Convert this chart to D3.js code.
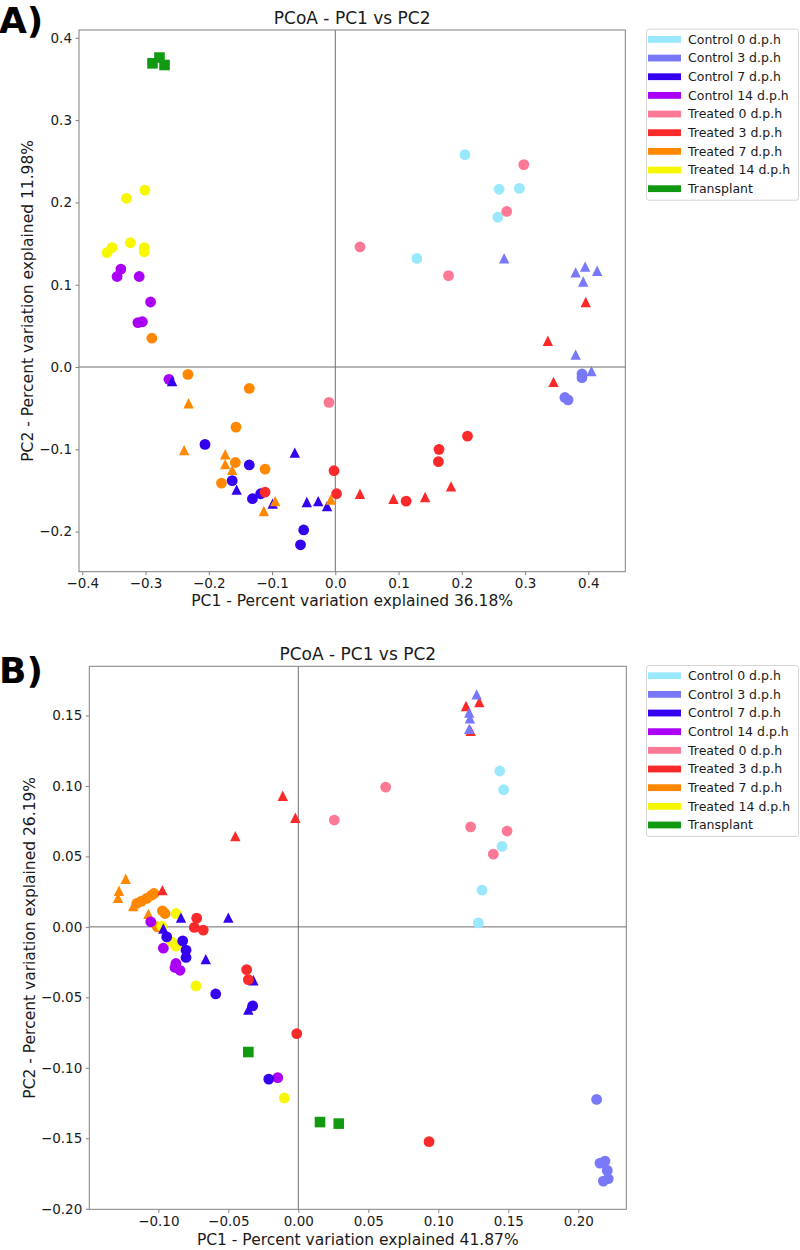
<!DOCTYPE html>
<html>
<head>
<meta charset="utf-8">
<script src="https://cdn.jsdelivr.net/npm/d3@7"></script>
<style>
  html, body { margin: 0; padding: 0; background: #fff; }
  svg { display: block; font-family: "DejaVu Sans", sans-serif; }
</style>
</head>
<body>
<svg id="chart" width="800" height="1250"></svg>
<script>
// ---------- data ----------
const groupNames = ["Control 0 d.p.h", "Control 3 d.p.h", "Control 7 d.p.h", "Control 14 d.p.h",
  "Treated 0 d.p.h", "Treated 3 d.p.h", "Treated 7 d.p.h", "Treated 14 d.p.h", "Transplant"];
const groupColors = ["#99e8fb", "#7878f8", "#3300f0", "#aa00f5", "#fd7895", "#fb2a2a", "#ff8800", "#f7f700", "#119911"];

const titleA = "PCoA - PC1 vs PC2";
const xLabelA = "PC1 - Percent variation explained 36.18%";
const yLabelA = "PC2 - Percent variation explained 11.98%";
const xTicksA = [-0.4, -0.3, -0.2, -0.1, 0.0, 0.1, 0.2, 0.3, 0.4];
const yTicksA = [-0.2, -0.1, 0.0, 0.1, 0.2, 0.3, 0.4];

const titleB = "PCoA - PC1 vs PC2";
const xLabelB = "PC1 - Percent variation explained 41.87%";
const yLabelB = "PC2 - Percent variation explained 26.19%";
const xTicksB = [-0.10, -0.05, 0.00, 0.05, 0.10, 0.15, 0.20];
const yTicksB = [-0.20, -0.15, -0.10, -0.05, 0.00, 0.05, 0.10, 0.15];

// [group index, marker, PC1, PC2]
const pointsA = [
  [0,"o",0.205,0.258],[0,"o",0.259,0.216],[0,"o",0.291,0.217],[0,"o",0.257,0.182],[0,"o",0.129,0.132],
  [4,"o",0.298,0.246],[4,"o",0.271,0.189],[4,"o",0.039,0.146],[4,"o",0.179,0.111],[4,"o",-0.010,-0.043],
  [3,"o",-0.345,0.110],[3,"o",-0.339,0.119],[3,"o",-0.310,0.110],[3,"o",-0.292,0.079],[3,"o",-0.312,0.054],[3,"o",-0.305,0.055],[3,"o",-0.263,-0.015],
  [7,"o",-0.330,0.205],[7,"o",-0.301,0.215],[7,"o",-0.361,0.139],[7,"o",-0.353,0.145],[7,"o",-0.324,0.151],[7,"o",-0.302,0.145],[7,"o",-0.302,0.140],
  [2,"o",-0.206,-0.094],[2,"o",-0.136,-0.119],[2,"o",-0.163,-0.138],[2,"o",-0.131,-0.160],[2,"o",-0.118,-0.154],[2,"o",-0.050,-0.198],[2,"o",-0.055,-0.216],
  [2,"^",-0.258,-0.017],[2,"^",-0.156,-0.149],[2,"^",-0.099,-0.166],[2,"^",-0.064,-0.104],[2,"^",-0.045,-0.164],[2,"^",-0.027,-0.163],[2,"^",-0.013,-0.169],
  [6,"^",-0.232,-0.044],[6,"^",-0.239,-0.101],[6,"^",-0.174,-0.106],[6,"^",-0.174,-0.118],[6,"^",-0.163,-0.125],[6,"^",-0.113,-0.175],[6,"^",-0.095,-0.163],[6,"^",-0.007,-0.161],
  [6,"o",-0.290,0.035],[6,"o",-0.233,-0.009],[6,"o",-0.136,-0.026],[6,"o",-0.157,-0.073],[6,"o",-0.158,-0.116],[6,"o",-0.180,-0.141],[6,"o",-0.111,-0.124],
  [5,"o",-0.111,-0.152],[5,"o",-0.002,-0.126],[5,"o",0.002,-0.154],[5,"o",0.112,-0.163],[5,"o",0.163,-0.115],[5,"o",0.164,-0.100],[5,"o",0.209,-0.084],
  [5,"^",0.039,-0.154],[5,"^",0.092,-0.160],[5,"^",0.142,-0.158],[5,"^",0.183,-0.145],[5,"^",0.336,0.032],[5,"^",0.345,-0.018],[5,"^",0.396,0.079],
  [1,"o",0.363,-0.037],[1,"o",0.368,-0.040],[1,"o",0.390,-0.0085],[1,"o",0.390,-0.013],
  [1,"^",0.380,0.015],[1,"^",0.405,-0.005],[1,"^",0.267,0.132],[1,"^",0.380,0.115],[1,"^",0.395,0.122],[1,"^",0.414,0.117],[1,"^",0.392,0.104],
  [8,"s",-0.289,0.369],[8,"s",-0.278,0.376],[8,"s",-0.270,0.367]
];

const pointsB = [
  [0,"o",0.1439,0.1106],[0,"o",0.1467,0.0973],[0,"o",0.1455,0.0571],[0,"o",0.1312,0.0261],[0,"o",0.1286,0.0028],
  [4,"o",0.0624,0.0992],[4,"o",0.0257,0.0758],[4,"o",0.1231,0.0710],[4,"o",0.1491,0.0680],[4,"o",0.1393,0.0516],
  [6,"^",-0.1233,0.0341],[6,"^",-0.1281,0.0256],[6,"^",-0.1288,0.0206],[6,"^",-0.1179,0.0147],[6,"^",-0.1071,0.0092],
  [6,"o",-0.1154,0.0166],[6,"o",-0.1119,0.0183],[6,"o",-0.1083,0.0202],[6,"o",-0.1047,0.0225],[6,"o",-0.1031,0.0237],[6,"o",-0.0971,0.0114],[6,"o",-0.0952,0.0095],[6,"o",-0.1007,0.0000],
  [3,"o",-0.1054,0.0036],[3,"o",-0.0964,-0.0151],[3,"o",-0.0874,-0.0260],[3,"o",-0.0881,-0.0288],[3,"o",-0.0845,-0.0308],[3,"o",-0.0147,-0.1070],
  [7,"o",-0.0874,0.0095],[7,"o",-0.0976,0.0005],[7,"o",-0.0904,-0.0107],[7,"o",-0.0874,-0.0137],[7,"o",-0.0731,-0.0419],[7,"o",-0.0100,-0.1214],
  [2,"o",-0.0940,-0.0071],[2,"o",-0.0826,-0.0099],[2,"o",-0.0802,-0.0165],[2,"o",-0.0802,-0.0217],[2,"o",-0.0590,-0.0476],[2,"o",-0.0326,-0.0561],[2,"o",-0.0211,-0.1080],
  [2,"^",-0.0838,0.0066],[2,"^",-0.0500,0.0066],[2,"^",-0.0964,-0.0011],[2,"^",-0.0661,-0.0229],[2,"^",-0.0321,-0.0379],[2,"^",-0.0357,-0.0587],
  [5,"^",-0.0111,0.0930],[5,"^",-0.0021,0.0774],[5,"^",-0.0450,0.0644],[5,"^",-0.0971,0.0261],
  [5,"o",-0.0726,0.0062],[5,"o",-0.0743,-0.0004],[5,"o",-0.0679,-0.0023],[5,"o",-0.0369,-0.0303],[5,"o",-0.0357,-0.0374],[5,"o",-0.0011,-0.0757],[5,"o",0.0934,-0.1524],
  [5,"^",0.1231,0.1392],[1,"^",0.1221,0.1405],[1,"^",0.1226,0.1480],[5,"^",0.1198,0.1567],[1,"^",0.1221,0.1520],[5,"^",0.1293,0.1596],[1,"^",0.1274,0.1650],
  [1,"o",0.2131,-0.1224],[1,"o",0.2155,-0.1676],[1,"o",0.2191,-0.1662],[1,"o",0.2207,-0.1728],[1,"o",0.2214,-0.1787],[1,"o",0.2179,-0.1804],
  [8,"s",-0.0357,-0.0888],[8,"s",0.0155,-0.1385],[8,"s",0.0289,-0.1396]
];

// ---------- drawing ----------
const svg = d3.select("#chart");
const frameColor = "#808080";
const textColor = "#1a1a1a";

function markerPath(m) {
  if (m === "o") return d3.symbol(d3.symbolCircle, Math.PI * 5.4 * 5.4)();
  if (m === "s") return d3.symbol(d3.symbolSquare, 10.6 * 10.6)();
  const h = 5.2; // matplotlib '^' : (0,-h), (-h,h), (h,h)
  return `M0,${-h}L${h},${h}L${-h},${h}Z`;
}

function panel(cfg) {
  const g = svg.append("g");
  const x = d3.scaleLinear().domain(cfg.xDomain).range([cfg.left, cfg.right]);
  const y = d3.scaleLinear().domain(cfg.yDomain).range([cfg.bottom, cfg.top]);

  // panel letter
  g.append("text").attr("x", -1).attr("y", cfg.letterY)
    .attr("font-size", 36).attr("font-weight", "bold").attr("fill", "#000")
    .text(cfg.letter);

  // title
  g.append("text").attr("x", (cfg.left + cfg.right) / 2).attr("y", cfg.top - 6.5)
    .attr("text-anchor", "middle").attr("font-size", 17).attr("fill", textColor)
    .text(cfg.title);

  // zero lines
  g.append("line").attr("x1", x(0)).attr("x2", x(0)).attr("y1", cfg.top).attr("y2", cfg.bottom)
    .attr("stroke", "#6e6e6e").attr("stroke-width", 1);
  g.append("line").attr("x1", cfg.left).attr("x2", cfg.right).attr("y1", y(0)).attr("y2", y(0))
    .attr("stroke", "#6e6e6e").attr("stroke-width", 1);

  // points
  g.append("g").selectAll("path").data(cfg.points).join("path")
    .attr("d", d => markerPath(d[1]))
    .attr("transform", d => `translate(${x(d[2])},${y(d[3])})`)
    .attr("fill", d => groupColors[d[0]]);

  // frame
  g.append("rect").attr("x", cfg.left).attr("y", cfg.top)
    .attr("width", cfg.right - cfg.left).attr("height", cfg.bottom - cfg.top)
    .attr("fill", "none").attr("stroke", frameColor).attr("stroke-width", 1);

  // axes
  const xAxis = d3.axisBottom(x).tickValues(cfg.xTicks).tickFormat(d3.format(cfg.fmt))
    .tickSizeInner(3.5).tickSizeOuter(0).tickPadding(3.5);
  const yAxis = d3.axisLeft(y).tickValues(cfg.yTicks).tickFormat(d3.format(cfg.fmt))
    .tickSizeInner(3.5).tickSizeOuter(0).tickPadding(3.5);
  const gx = g.append("g").attr("transform", `translate(0,${cfg.bottom})`).call(xAxis);
  const gy = g.append("g").attr("transform", `translate(${cfg.left},0)`).call(yAxis);
  [gx, gy].forEach(a => {
    a.select(".domain").remove();
    a.selectAll(".tick line").attr("stroke", frameColor);
    a.selectAll(".tick text").attr("font-size", 13.5).attr("fill", textColor)
      .attr("font-family", "DejaVu Sans, sans-serif");
  });

  // axis labels
  g.append("text").attr("x", (cfg.left + cfg.right) / 2).attr("y", cfg.bottom + cfg.xLabelOff)
    .attr("text-anchor", "middle").attr("font-size", 15.5).attr("fill", textColor)
    .text(cfg.xLabel);
  g.append("text")
    .attr("transform", `translate(${cfg.yLabelX},${(cfg.top + cfg.bottom) / 2}) rotate(-90)`)
    .attr("text-anchor", "middle").attr("font-size", 15.5).attr("fill", textColor)
    .text(cfg.yLabel);

  // legend
  const lx = 646.5, ly = cfg.top - 0.8, rowH = 18.66;
  const lg = g.append("g");
  lg.append("rect").attr("x", lx).attr("y", ly).attr("width", 152).attr("height", 171)
    .attr("rx", 2.5).attr("fill", "#fff").attr("stroke", "#d6d6d6").attr("stroke-width", 1);
  groupNames.forEach((name, i) => {
    const cy = ly + 10.2 + i * rowH;
    lg.append("rect").attr("x", lx + 1.5).attr("y", cy - 3.4).attr("width", 33).attr("height", 6.8)
      .attr("fill", groupColors[i]);
    lg.append("text").attr("x", lx + 41.5).attr("y", cy + 4.4)
      .attr("font-size", 12.5).attr("fill", textColor).text(name);
  });
}

panel({
  letter: "A)", letterY: 33, title: titleA, xLabel: xLabelA, yLabel: yLabelA,
  left: 79, right: 625.3, top: 30, bottom: 571.7,
  xDomain: [-0.4052, 0.4585], yDomain: [-0.2487, 0.4095],
  xTicks: xTicksA, yTicks: yTicksA, fmt: ".1f", points: pointsA,
  xLabelOff: 34.5, yLabelX: 32.5
});

panel({
  letter: "B)", letterY: 683, title: titleB, xLabel: xLabelB, yLabel: yLabelB,
  left: 89.3, right: 626.3, top: 666.3, bottom: 1209.3,
  xDomain: [-0.1493, 0.2343], yDomain: [-0.2004, 0.1849],
  xTicks: xTicksB, yTicks: yTicksB, fmt: ".2f", points: pointsB,
  xLabelOff: 35.5, yLabelX: 35
});
</script>
</body>
</html>
